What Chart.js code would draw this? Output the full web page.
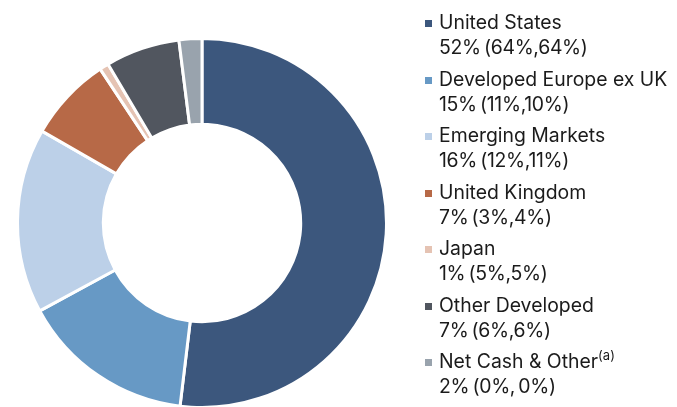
<!DOCTYPE html>
<html>
<head>
<meta charset="utf-8">
<script src="https://cdn.jsdelivr.net/npm/chart.js@4"></script>
<style>
  html, body { margin: 0; padding: 0; background: #fff; overflow: hidden; }
  #pagina { position: relative; width: 677px; height: 407px; }
  #caixa-grafico { position: absolute; left: 16px; top: 37px; width: 372px; height: 372px; }
  #legenda { position: absolute; left: 0; top: 0; width: 677px; height: 407px;
    font-family: "Inter", "Open Sans", sans-serif; color: #1b1b1b; }
  .item { position: absolute; left: 439px; font-size: 19.4px; line-height: 25px; white-space: nowrap; }
  .item .pct { word-spacing: -2px; letter-spacing: -0.3px; }
  .marcador { position: absolute; left: -14px; top: 10px; width: 7px; height: 7px; }
  sup { font-size: 13px; line-height: 0; vertical-align: 8px; }
</style>
</head>
<body>
<div id="pagina">
  <div id="caixa-grafico"><canvas id="grafico-regioes"></canvas></div>
  <div id="legenda"></div>
</div>
<script>
// Regiões
var regioes = [
  "United States",
  "Developed Europe ex UK",
  "Emerging Markets",
  "United Kingdom",
  "Japan",
  "Other Developed",
  "Net Cash & Other",
];
// Peso atual (em %)
var pesos = [51.9, 15.2, 16.2, 7.4, 0.8, 6.5, 2.0];
// Segunda linha da legenda
var textoPesos = [
  "52% (64%,64%)",
  "15% (11%,10%)",
  "16% (12%,11%)",
  "7% (3%,4%)",
  "1% (5%,5%)",
  "7% (6%,6%)",
  "2% (0%, 0%)",
];
var notas = ["", "", "", "", "", "", "(a)"];
var cores = ["#3c577d", "#6799c5", "#bcd0e8", "#b76947", "#e5c3b3", "#51565f", "#99a3ad"];

//Legenda em HTML
var legenda = document.getElementById("legenda");
for (var i = 0; i < regioes.length; i++) {
  var item = document.createElement("div");
  item.className = "item";
  item.style.top = 10 + i * 56.5 + "px";
  var marcador = document.createElement("span");
  marcador.className = "marcador";
  marcador.style.background = cores[i];
  item.appendChild(marcador);
  var linha1 = document.createElement("div");
  linha1.textContent = regioes[i];
  if (notas[i]) {
    var sup = document.createElement("sup");
    sup.textContent = notas[i];
    linha1.appendChild(sup);
  }
  item.appendChild(linha1);
  var linha2 = document.createElement("div");
  linha2.className = "pct";
  linha2.textContent = textoPesos[i];
  item.appendChild(linha2);
  legenda.appendChild(item);
}

//Gráfico de rosca
var graficoRegioes = document.getElementById("grafico-regioes").getContext("2d");
new Chart(graficoRegioes, {
  type: "doughnut",
  data: {
    labels: regioes,
    datasets: [
      {
        data: pesos,
        backgroundColor: cores,
        borderColor: "#ffffff",
        borderWidth: 3,
      },
    ],
  },
  options: {
    responsive: true,
    maintainAspectRatio: false,
    animation: false,
    cutout: "53.5%",
    layout: { padding: 0 },
    plugins: {
      legend: { display: false },
      tooltip: { enabled: false },
      title: { display: false },
    },
  },
});
</script>
</body>
</html>
